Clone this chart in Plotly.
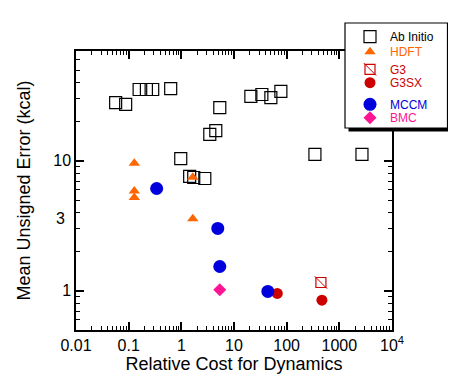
import plotly.graph_objects as go

# ---------------- data ----------------
abinitio_x = [0.0566, 0.0877, 0.158, 0.217, 0.286, 0.628, 0.975, 1.44, 1.72, 2.79,
              3.47, 4.51, 5.37, 20.9, 33.8, 50.1, 77.6, 344, 2690]
abinitio_y = [28.1, 27.2, 35.4, 35.4, 35.4, 36.0, 10.4, 7.59, 7.45, 7.32,
              16.0, 17.1, 25.7, 31.3, 32.4, 30.7, 34.2, 11.2, 11.2]

hdft_x = [0.128, 0.128, 0.128, 1.65, 1.65]
hdft_y = [9.59, 5.86, 5.23, 7.49, 3.59]

g3_x = [447]
g3_y = [1.16]

g3sx_x = [66.3, 467]
g3sx_y = [0.955, 0.848]

mccm_x = [0.34, 4.92, 5.37, 43.9]
mccm_y = [6.13, 3.02, 1.54, 0.99]

bmc_x = [5.37]
bmc_y = [1.02]

x_tickvals = [0.01, 0.1, 1, 10, 100, 1000, 10000]
x_ticktext = ["0.01", "0.1", "1", "10", "100", "1000", "10<sup>4</sup>"]
y_tickvals = [1, 10]
y_ticktext = ["1", "10"]
y_minor = [0.6, 0.7, 0.8, 0.9, 2, 3, 4, 5, 6, 7, 8, 9, 20, 30, 40, 50, 60]

FONT = "Arial, Liberation Sans, Helvetica, sans-serif"
ORANGE = "#ff6600"
RED = "#cc0000"
BLUE = "#0000dd"
PINK = "#ff1493"

# the page body adds an 8px margin, so the figure is drawn 8px smaller
OFF = 8
W, H = 456 - OFF, 386 - OFF
L, R, T, B = 76 - OFF, 456 - 392, 51 - OFF, 386 - 330
PW, PH = W - L - R, H - T - B


def px(xp):
    return (xp - OFF - L) / PW


def py(yp):
    return (H - B - (yp - OFF)) / PH


fig = go.Figure()

fig.add_trace(go.Scatter(x=abinitio_x, y=abinitio_y, mode="markers", name="Ab Initio",
                         legend="legend",
                         marker=dict(symbol="square-open", size=12, color="black",
                                     line=dict(width=1.2, color="black"))))
fig.add_trace(go.Scatter(x=hdft_x, y=hdft_y, mode="markers", name="HDFT", legend="legend2",
                         marker=dict(symbol="triangle-up", size=10, color=ORANGE)))
fig.add_trace(go.Scatter(x=g3_x, y=g3_y, mode="markers", name="G3", legend="legend3",
                         marker=dict(symbol="square-open", size=10, color=RED,
                                     line=dict(width=1.2, color=RED))))
fig.add_trace(go.Scatter(x=g3_x, y=g3_y, mode="markers", name="G3", legend="legend7",
                         marker=dict(symbol="line-nw", size=12.5, color=RED,
                                     line=dict(width=1, color=RED))))
fig.add_trace(go.Scatter(x=g3sx_x, y=g3sx_y, mode="markers", name="G3SX", legend="legend4",
                         marker=dict(symbol="circle", size=11, color=RED)))
fig.add_trace(go.Scatter(x=mccm_x, y=mccm_y, mode="markers", name="MCCM", legend="legend5",
                         marker=dict(symbol="circle", size=13, color=BLUE)))
fig.add_trace(go.Scatter(x=bmc_x, y=bmc_y, mode="markers", name="BMC", legend="legend6",
                         marker=dict(symbol="diamond", size=10, color=PINK)))

axis_common = dict(
    type="log", showline=True, linecolor="black", linewidth=1.5, mirror="allticks",
    ticks="inside", ticklen=8, tickwidth=1.5, tickcolor="black", showgrid=False,
    zeroline=False, automargin=False, tickfont=dict(family=FONT, size=16, color="black"),
)

fig.update_layout(
    width=W, height=H,
    margin=dict(l=L, r=R, t=T, b=B, autoexpand=False),
    showlegend=True,
    paper_bgcolor="white", plot_bgcolor="white",
    font=dict(family=FONT, color="black"),
    xaxis=dict(axis_common, range=[-2, 4], tickmode="array", tickvals=x_tickvals,
               ticktext=x_ticktext,
               minor=dict(ticks="inside", ticklen=4, tickwidth=1.2, tickcolor="black",
                          dtick="D1", showgrid=False),
               title=dict(text="Relative Cost for Dynamics",
                          font=dict(family=FONT, size=18, color="black"), standoff=3)),
    yaxis=dict(axis_common, range=[-0.30103, 1.845098], tickmode="array",
               tickvals=y_tickvals, ticktext=y_ticktext,
               minor=dict(ticks="inside", ticklen=4, tickwidth=1.2, tickcolor="black",
                          tickmode="array", tickvals=y_minor, showgrid=False),
               title=dict(text="Mean Unsigned Error (kcal)",
                          font=dict(family=FONT, size=18, color="black"), standoff=18)),
)

# "3" label on the y axis (drawn slightly above its tick, as in the reference)
fig.add_annotation(x=0, xref="paper", y=0.4771, yref="y", text="3", showarrow=False,
                   xanchor="right", xshift=-9, yshift=10,
                   font=dict(family=FONT, size=16, color="black"))

# legend box with drop shadow
fig.add_shape(type="rect", xref="paper", yref="paper", layer="above",
              x0=px(348.5), x1=px(451), y0=py(131.5), y1=py(26.5),
              fillcolor="black", line=dict(width=0))
fig.add_shape(type="rect", xref="paper", yref="paper", layer="above",
              x0=px(345), x1=px(447.5), y0=py(128), y1=py(23),
              fillcolor="white", line=dict(width=1.2, color="black"))

legend_rows = [("legend", 36.7, "black"), ("legend2", 51.7, ORANGE),
               ("legend3", 69.3, RED), ("legend7", 69.3, "rgba(0,0,0,0)"),
               ("legend4", 82.7, RED), ("legend5", 104.3, BLUE),
               ("legend6", 117.7, PINK)]
for key, yc, col in legend_rows:
    fig.update_layout({key: dict(x=px(350), xanchor="left", y=py(yc), yanchor="middle",
                                 bgcolor="rgba(0,0,0,0)", borderwidth=0,
                                 font=dict(family=FONT, size=12, color=col),
                                 itemclick=False, itemdoubleclick=False)})

fig.write_html("out.html")
